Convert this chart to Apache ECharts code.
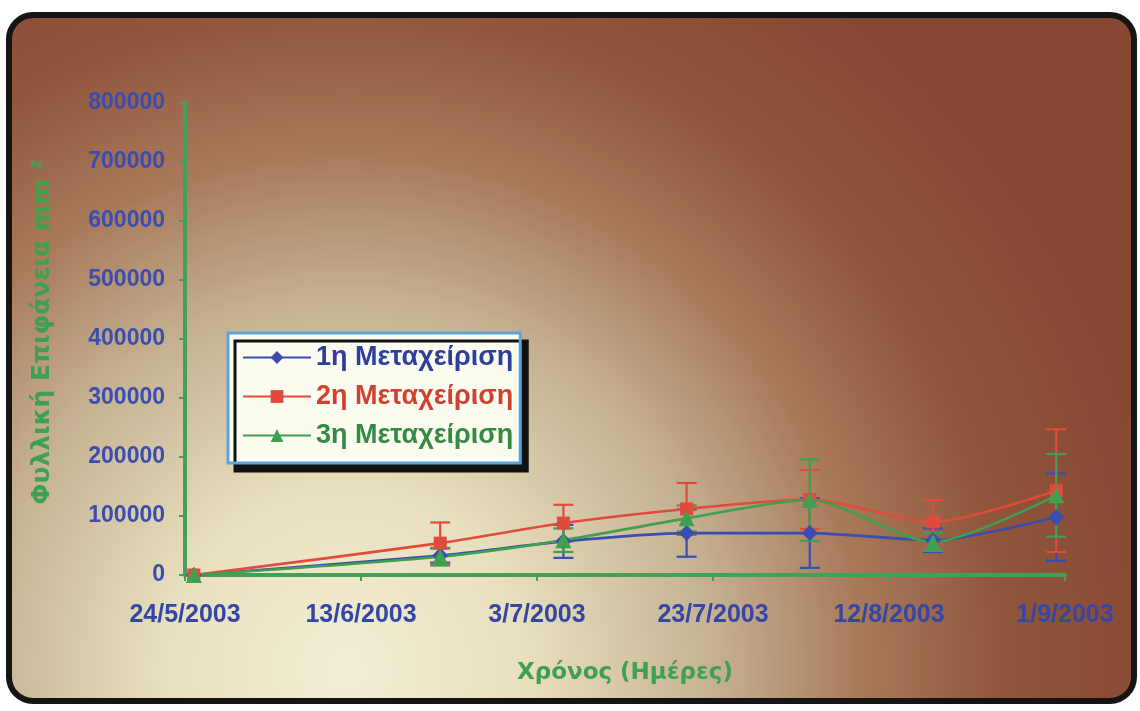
<!DOCTYPE html>
<html>
<head>
<meta charset="utf-8">
<script src="https://cdn.jsdelivr.net/npm/echarts@6/dist/echarts.min.js"></script>
<style>
html,body{margin:0;padding:0;background:#fff;}
#chart{width:1140px;height:711px;}
</style>
</head>
<body>
<div id="chart"></div>
<script>
// ---- data ----
const dates = ['25/5/2003','22/6/2003','6/7/2003','20/7/2003','3/8/2003','17/8/2003','31/8/2003'];
const xTickLabels = ['24/5/2003','13/6/2003','3/7/2003','23/7/2003','12/8/2003','1/9/2003'];
const seriesNames = ['1η Μεταχείριση','2η Μεταχείριση','3η Μεταχείριση'];
const s1Values = [0, 33000, 57000, 71000, 71000, 59000, 98000];
const s1Errors = [0, 12000, 28000, 40000, 59000, 20000, 74000];
const s2Values = [0, 54000, 88000, 112000, 128000, 90000, 143000];
const s2Errors = [0, 35000, 31000, 44000, 50000, 37000, 104000];
const s3Values = [0, 31000, 59000, 96000, 127000, 56000, 135000];
const s3Errors = [0, 15000, 20000, 22000, 69000, 15000, 70000];
const yAxisTitle = 'Φυλλική Επιφάνεια mm ²';
const xAxisTitle = 'Χρόνος (Ημέρες)';

function dayIndex(s){
  const p = s.split('/').map(Number);
  return Math.round((Date.UTC(p[2], p[1]-1, p[0]) - Date.UTC(2003, 4, 24)) / 86400000);
}
const xs = dates.map(dayIndex);

const lineColors = ['#3a4db0', '#e04b3c', '#3fa04f'];
const textColors = ['#2c3f9e', '#d0412f', '#358a45'];
const symbols = ['diamond', 'rect', 'triangle'];
const symbolSizes = [16, 13, 16];
const allValues = [s1Values, s2Values, s3Values];
const allErrors = [s1Errors, s2Errors, s3Errors];

const series = [];
allValues.forEach((vals, i) => {
  series.push({
    name: 'err' + i,
    type: 'custom',
    z: 3,
    data: vals.map((v, k) => [xs[k], v, allErrors[i][k]]),
    encode: {x: 0, y: 1},
    silent: true,
    renderItem: function(params, api){
      const x = api.value(0), v = api.value(1), e = api.value(2);
      if (!e) return null;
      const top = api.coord([x, v + e]);
      const bot = api.coord([x, v - e]);
      const cw = 10;
      const st = {stroke: lineColors[i], lineWidth: 2.2};
      return {type: 'group', children: [
        {type: 'line', shape: {x1: top[0], y1: top[1], x2: bot[0], y2: bot[1]}, style: st},
        {type: 'line', shape: {x1: top[0]-cw, y1: top[1], x2: top[0]+cw, y2: top[1]}, style: st},
        {type: 'line', shape: {x1: bot[0]-cw, y1: bot[1], x2: bot[0]+cw, y2: bot[1]}, style: st}
      ]};
    }
  });
});
allValues.forEach((vals, i) => {
  series.push({
    name: seriesNames[i],
    type: 'line',
    z: 4,
    smooth: 0.25,
    data: vals.map((v, k) => [xs[k], v]),
    symbol: symbols[i],
    symbolSize: symbolSizes[i],
    showAllSymbol: true,
    lineStyle: {color: lineColors[i], width: 2.6},
    itemStyle: {color: lineColors[i]}
  });
});

const chart = echarts.init(document.getElementById('chart'), null, {renderer: 'canvas'});
chart.setOption({
  backgroundColor: '#ffffff',
  animation: false,
  graphic: [{
    type: 'rect',
    z: -10,
    silent: true,
    shape: {x: 9, y: 15, width: 1125, height: 686, r: 24},
    style: {
      fill: {
        type: 'radial', x: 0.3, y: 0.95, r: 1.2,
        colorStops: [
          {offset: 0, color: '#f3eed6'},
          {offset: 0.22, color: '#e8dfbd'},
          {offset: 0.45, color: '#c4b090'},
          {offset: 0.62, color: '#a87a5a'},
          {offset: 0.8, color: '#90553b'},
          {offset: 1, color: '#874733'}
        ]
      },
      stroke: '#151515',
      lineWidth: 6
    }
  }],
  grid: {left: 185, right: 75, top: 103, bottom: 136, containLabel: false},
  legend: {
    data: seriesNames.map((n, i) => ({name: n, textStyle: {color: textColors[i]}})),
    orient: 'vertical',
    left: 228, top: 333,
    itemWidth: 68, itemHeight: 16, itemGap: 12,
    padding: [11, 7, 14, 14],
    backgroundColor: '#fbfbf0',
    borderColor: '#5aa6dc', borderWidth: 3,
    shadowColor: '#111', shadowOffsetX: 7, shadowOffsetY: 8, shadowBlur: 0,
    textStyle: {fontFamily: 'Liberation Sans, Arial', fontWeight: 'bold', fontSize: 27}
  },
  xAxis: {
    type: 'value', min: 0, max: 100, interval: 20,
    name: xAxisTitle, nameLocation: 'middle', nameGap: 87,
    nameTextStyle: {color: '#3fa04f', fontFamily: 'DejaVu Sans', fontWeight: 'bold', fontSize: 23},
    axisLine: {show: true, onZero: false, lineStyle: {color: '#45a055', width: 4}},
    axisTick: {show: true, length: 6, lineStyle: {color: '#45a055', width: 2}},
    splitLine: {show: false},
    axisLabel: {
      margin: 28, color: '#3447a5', fontFamily: 'Liberation Sans, Arial', fontWeight: 'bold', fontSize: 25,
      formatter: v => xTickLabels[Math.round(v / 20)]
    }
  },
  yAxis: {
    type: 'value', min: 0, max: 800000, interval: 100000,
    name: yAxisTitle, nameLocation: 'middle', nameGap: 130, nameRotate: 90,
    nameTextStyle: {color: '#3fa04f', fontFamily: 'DejaVu Sans', fontWeight: 'bold', fontSize: 25, padding: [0, 0, 0, 14]},
    axisLine: {show: true, lineStyle: {color: '#45a055', width: 4}},
    axisTick: {show: true, length: 6, lineStyle: {color: '#45a055', width: 2}},
    splitLine: {show: false},
    axisLabel: {
      margin: 20, color: '#3a4db0', fontFamily: 'Liberation Sans, Arial', fontWeight: 'bold', fontSize: 23,
      formatter: v => String(v)
    }
  },
  series: series
});
</script>
</body>
</html>
